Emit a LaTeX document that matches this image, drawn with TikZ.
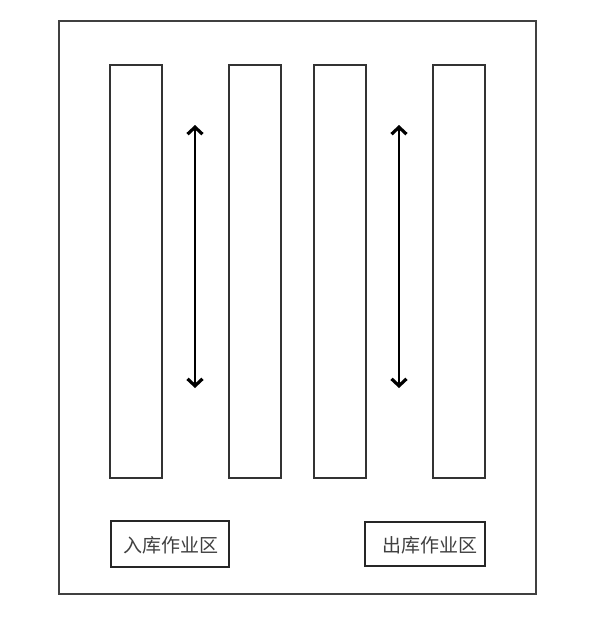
\documentclass[tikz,border=0pt]{standalone}
\usepackage{fontspec}
\newfontfamily\cjk{Noto Sans CJK SC}
\usetikzlibrary{arrows.meta}
\begin{document}
\begin{tikzpicture}[x=1pt,y=-1pt,
  frame/.style={draw=black!75,line width=2pt},
  rack/.style={draw=black!80,line width=2pt},
  zone/.style={draw=black!85,line width=2pt},
  lbl/.style={font=\cjk\fontsize{19}{19}\selectfont,text=black!75,inner sep=0pt},
  move/.style={draw=black,line width=2pt,{Straight Barb[length=7pt,width=15pt,line width=3.2pt]}-{Straight Barb[length=7pt,width=15pt,line width=3.2pt]}}]
\useasboundingbox (0,0) rectangle (600,619);
\fill[white] (0,0) rectangle (600,619);
\draw[frame] (59,21) rectangle (536,594);
\draw[rack] (110,65) rectangle (162,478);
\draw[rack] (229,65) rectangle (281,478);
\draw[rack] (314,65) rectangle (366,478);
\draw[rack] (433,65) rectangle (485,478);
\coordinate (a1) at (195,125);
\coordinate (b1) at (195,388);
\coordinate (a2) at (399,125);
\coordinate (b2) at (399,388);
\draw[move] (a1) -- (b1);
\draw[move] (a2) -- (b2);
\draw[zone] (111,521) rectangle (229,567);
\node[lbl] (in) at (170.5,545) {入库作业区};
\draw[zone] (365,522) rectangle (485,566);
\node[lbl] (out) at (430,545) {出库作业区};
\end{tikzpicture}
\end{document}
